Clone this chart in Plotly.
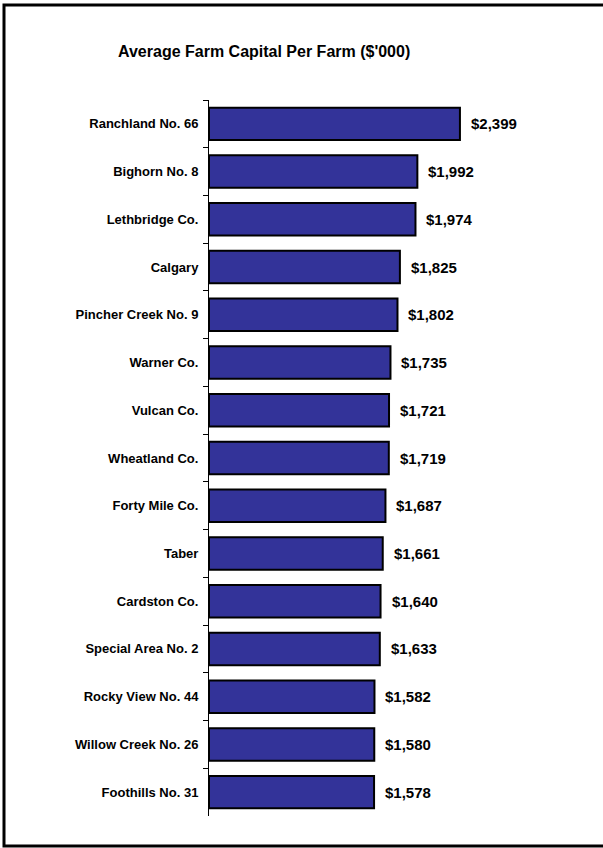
import plotly.graph_objects as go

categories = ["Ranchland No. 66", "Bighorn No. 8", "Lethbridge Co.", "Calgary",
              "Pincher Creek No. 9", "Warner Co.", "Vulcan Co.", "Wheatland Co.",
              "Forty Mile Co.", "Taber", "Cardston Co.", "Special Area No. 2",
              "Rocky View No. 44", "Willow Creek No. 26", "Foothills No. 31"]
values = [2399, 1992, 1974, 1825, 1802, 1735, 1721, 1719, 1687, 1661,
          1640, 1633, 1582, 1580, 1578]
value_labels = ["$" + format(v, ",") for v in values]

FONT = "Liberation Sans Narrow, Arial Narrow, Liberation Sans, Arial, sans-serif"

W, H = 603, 848
L, R, T, B = 209, 49, 100, 32
pw = W - L - R
ph = H - T - B

fig = go.Figure()
fig.add_trace(go.Bar(
    y=categories, x=values, orientation="h",
    marker=dict(color="#333399", line=dict(color="#000000", width=2)),
    width=0.68, hoverinfo="skip",
))

for c, v, t in zip(categories, values, value_labels):
    fig.add_annotation(x=v, y=c, text="<b>" + t + "</b>", showarrow=False,
                       xanchor="left", yanchor="middle", xshift=9,
                       font=dict(family=FONT, size=15, color="#000000"))

fig.add_annotation(x=(264 - L) / pw, y=(H - B - 51) / ph, xref="paper", yref="paper",
                   text="<b>Average Farm Capital Per Farm ($'000)</b>", showarrow=False,
                   xanchor="center", yanchor="middle",
                   font=dict(family=FONT, size=16, color="#000000"))

# outer frame
fig.add_shape(type="rect", xref="paper", yref="paper",
              x0=(4 - L) / pw, x1=(606 - L) / pw,
              y0=(H - B - 846) / ph, y1=(H - B - 5) / ph,
              line=dict(color="#000000", width=3), fillcolor="rgba(0,0,0,0)")

fig.update_layout(
    width=W, height=H, margin=dict(l=L, r=R, t=T, b=B),
    paper_bgcolor="#ffffff", plot_bgcolor="#ffffff",
    showlegend=False,
    font=dict(family=FONT, color="#000000"),
)
fig.update_xaxes(range=[0, pw / 0.1046], visible=False, showgrid=False, zeroline=False)
fig.update_yaxes(autorange="reversed", type="category", showline=True, linecolor="#000000",
                 linewidth=1, ticks="outside", ticklen=5, tickcolor="#000000",
                 tickson="boundaries", showgrid=False, ticklabelstandoff=7,
                 tickfont=dict(family=FONT, size=13, color="#000000", weight="bold"))

fig.write_html("out.html", config={"displayModeBar": False, "staticPlot": True},
               post_script="document.body.style.margin='0';document.body.style.overflow='hidden';")
